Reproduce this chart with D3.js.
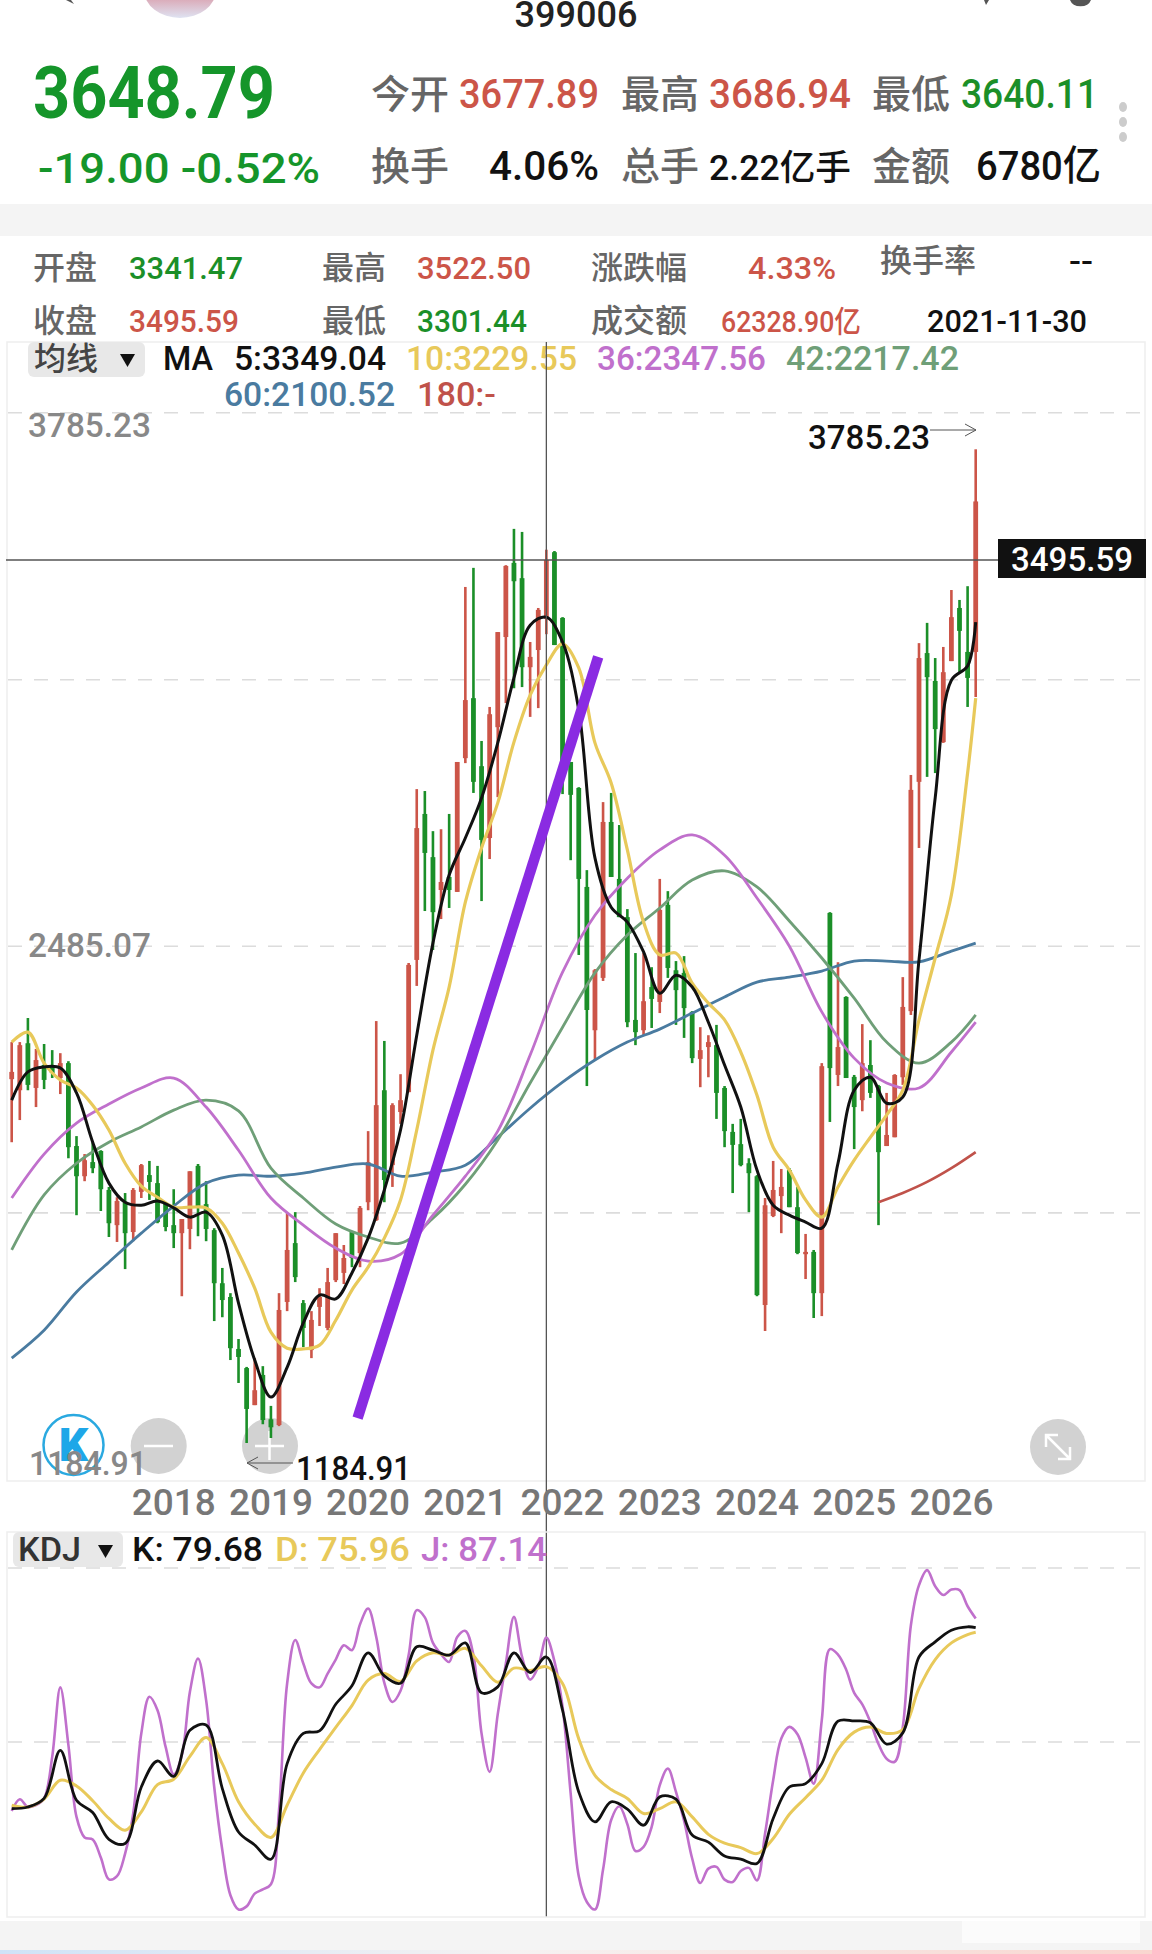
<!DOCTYPE html>
<html>
<head>
<meta charset="utf-8">
<script src="https://cdn.jsdelivr.net/npm/d3@7"></script>
<style>
    html, body { margin: 0; padding: 0; background: #fff; }
    svg { display: block; }
    text { font-family: Roboto, "Noto Sans CJK SC", sans-serif; font-weight: 500; }
</style>
</head>
<body>
<div id="chart"></div>
<script>
/************************** Data **************************/

var opens = [2137,2108,2231,2114,2174,2174,2140,2179,1962,1883,1920,1949,1847,1755,1815,1737,1842,1886,1865,1813,
    1755,1734,1745,1910,1810,1742,1603,1567,1431,1381,1284,1363,1247,1232,1554,1708,1551,1428,1541,1486,
    1611,1630,1737,1682,1815,1768,2108,1912,2051,2103,2449,2831,2718,2632,2666,2627,2977,3134,2956,2768,
    3058,3294,3488,3448,3215,3260,3341.47,3516,3344,2967,2899,2640,2265,2402,2810,2661,2561,2292,2265,2378,
    2339,2593,2422,2415,2313,2190,2221,2226,2114,1999,1967,1917,1883,1546,1779,1831,1899,1802,1679,1685,
    1577,2572,2148,2352,2143,2082,2174,2119,1962,1985,2142,2315,2915,3252,3179,3019,3231,3370,3255,3255];
var highs = [2234,2234,2297,2216,2229,2213,2205,2184,1988,1941,1972,1951,1855,1828,1839,1852,1915,1923,1910,1815,
    1849,1771,1896,1915,1870,1747,1643,1577,1457,1384,1407,1386,1282,1577,1787,1789,1559,1530,1590,1643,
    1734,1703,1737,1805,2001,2289,2237,2074,2150,2441,2896,2891,2786,2791,2831,2967,3425,3475,3022,3111,
    3307,3482,3577,3569,3281,3370,3522.5,3519,3346,2967,2901,2684,2425,2862,2886,2802,2582,2467,2467,2430,
    2661,2629,2446,2459,2315,2273,2252,2279,2119,2020,2033,1930,1886,1826,1923,1902,1904,1855,1732,1690,
    2179,2574,2443,2354,2148,2281,2239,2122,2101,2150,2404,2933,3278,3331,3239,3268,3417,3391,3427,3785.23];
var lows = [1972,2030,2108,2064,2111,2140,2098,1930,1781,1870,1891,1792,1724,1711,1640,1713,1826,1821,1760,1739,
    1695,1569,1692,1726,1713,1504,1514,1402,1342,1184.91,1284,1234,1198,1229,1530,1606,1436,1407,1491,1480,
    1606,1601,1645,1645,1794,1766,1815,1855,2020,2103,2381,2577,2475,2556,2585,2627,2964,2886,2603,2713,
    2875,3121,3160,3163,3085,3108,3301.44,3273,2883,2710,2462,2119,2187,2394,2666,2561,2273,2226,2252,2271,
    2310,2402,2279,2245,2179,2116,2142,2033,1959,1839,1909,1789,1569,1478,1776,1734,1802,1679,1614,1512,
    1517,2025,2119,2140,1954,2053,2088,1755,1962,1985,2122,2305,2742,2928,2938,3017,3231,3200,3111,3137];
var closes = [2156,2226,2122,2187,2135,2153,2179,1959,1883,1925,1904,1849,1760,1818,1734,1847,1912,1868,1763,1750,
    1734,1771,1896,1802,1745,1603,1559,1433,1410,1274,1323,1245,1226,1533,1690,1619,1486,1507,1567,1606,
    1734,1669,1669,1800,1920,2069,1873,2069,2082,2436,2794,2729,2574,2653,2632,2967,3129,2915,2763,3092,
    3307,3480,3440,3215,3242,3365,3495.59,3273,2964,2881,2661,2318,2422,2810,2666,2561,2286,2260,2341,2347,
    2580,2428,2370,2323,2192,2213,2234,2101,2001,1965,1912,1891,1572,1807,1847,1855,1802,1682,1685,1577,
    2171,2166,2221,2140,2064,2179,2101,1946,1991,2148,2326,2894,3239,3189,3053,3202,3346,3310,3187,3648.79];

// fast averages are read every 2nd candle, slow ones every 4th, all end on the last candle
var ma5 = [2082,2156,2169,2166,2101,1972,1865,1815,1807,1818,1800,1776,1789,1729,1551,1402,1305,1383,1499,1572,
    1562,1630,1721,1847,2004,2252,2493,2671,2768,2873,3017,3187,3325,3346,3281,3103,2716,2587,2548,2470,
    2362,2409,2378,2286,2174,2064,1899,1807,1781,1763,1747,1917,2108,2142,2074,2090,2449,2873,3181,3218,3333];
var ma10 = [2234,2260,2179,2135,2114,2069,2004,1917,1857,1828,1802,1802,1800,1760,1682,1590,1475,1433,1431,1441,
    1506,1585,1645,1721,1821,2004,2213,2378,2600,2742,2860,3019,3142,3221,3276,3213,3017,2912,2737,2548,
    2462,2467,2388,2336,2292,2208,2095,1959,1899,1821,1776,1855,1925,1985,2043,2108,2292,2454,2619,2938,3134];
var ma36 = [1826,1941,2022,2072,2114,2140,2064,1951,1826,1755,1695,1661,1679,1781,1883,2001,2200,2417,2566,2663,
    2737,2776,2723,2611,2485,2313,2192,2127,2114,2208,2286];
var ma42 = [1690,1834,1917,1972,2012,2056,2082,2054,1904,1826,1758,1724,1708,1773,1862,1978,2127,2273,2415,2514,
    2585,2658,2682,2640,2551,2454,2349,2234,2179,2234,2305];
var ma60 = [1407,1480,1580,1658,1734,1805,1865,1886,1883,1891,1907,1915,1883,1894,1912,1985,2061,2129,2187,2234,
    2268,2310,2352,2391,2404,2420,2446,2446,2444,2472,2493];
var ma180 = [1815,1839,1868,1904,1946];

var kValues = [21.4,22,25.3,43.8,24.6,19.9,9.6,8,29.7,39.7,33.8,51.5,53.5,29.1,12.4,7.4,1.9,38.7,50.3,51.3,
    61.5,68.6,81.3,72.4,69.6,83.6,82.3,80.4,85.1,65.9,68.2,81.3,73.7,79.68,59.2,27.8,16.3,24,21.2,15,
    25.9,25,11.2,8.5,3.2,2,0.3,17.6,29.7,31,38.7,55,55.1,54.4,46.2,50.5,79.7,85.5,90,91.3,91];
var dValues = [22.7,22,25.1,32.3,30.1,24.4,17.6,13.1,20.1,30.6,32.7,41.5,48.7,38.7,24,15.4,10.3,22.7,35.1,44.1,
    52.6,61,70.8,73.3,70.3,78.2,81.3,80.4,83,76.3,70,75.4,74.5,75.96,69.5,48.2,34.2,28.7,25.3,19.5,
    21.4,24,18.2,11.5,8.1,6.4,4.1,9.9,19.2,25.6,32.3,44.1,50.8,52.8,50.3,51.8,67.6,78.7,85.1,88.3,89.2];
var jValues = [20.5,25,22,22.7,25.3,41.3,68,45.8,18.2,10.3,9.5,2.6,-5.8,-4.6,4.1,19.5,50.3,64.4,59.2,45.1,
    34.6,41.9,66.3,79.1,63.1,29.7,5.4,-11.9,-17.4,-16.2,-11.3,-9.7,-7.7,20.8,69.5,86.2,77.2,69.5,68,73.3,
    78.7,84.2,82.3,92.3,98.3,87.4,69.7,62.4,66.7,80.4,97.7,94.9,85.1,80.8,77.8,87.4,89.7,80.4,50.3,35.5,
    57.7,77.2,95.1,79.7,71,76,87.14,78,60.5,27.2,-4.6,-14.5,-17.4,-2,17,22.3,15.4,5.1,6.7,14.4,
    30.4,36.8,27.8,16.7,2.2,-7.2,-1.7,-1,-5.9,-6.8,-2.6,-1.4,-6.2,11.8,32.3,48.3,52.8,50,41,31,
    55.4,82.7,80.6,74.9,65.9,61.5,54.7,46.2,40.6,39.4,52.8,91.9,107.3,113.1,106.9,103.5,105.6,105.4,99.2,94.5];

var gridPrices = [3881, 3182, 2485, 1787];
var gridKdj = [113.9, 47];
var yearLabels = ["2018","2019","2020","2021","2022","2023","2024","2025","2026"];
var firstYearIndex = 20;
var selectedIndex = 66;
var selectedClose = 3495.59;
var maxPrice = 3785.23;
var minPrice = 1184.91;
// hand drawn purple stroke: candle index and price of both ends
var penIndex = [42.7, 72.4];
var penPrice = [1250, 3242];

var RED = "#cc5548", GREEN = "#1b8f28", GREY = "#666", AXIS = "#888";
var YELLOW = "#e8c95a", PURPLE = "#c070cc", OLIVE = "#6f9f78", BLUE = "#4a7ba0";

/************************** Setup **************************/

var svg = d3.select("#chart").append("svg").attr("width", 1152).attr("height", 1954);
svg.append("rect").attr("width", 1152).attr("height", 1954).attr("fill", "#fff");

var x = d3.scaleLinear().domain([0, 119]).range([11.7, 975.7]);
var y = d3.scaleLinear().domain([minPrice, maxPrice]).range([1443, 449.3]);
var yKdj = d3.scaleLinear().domain([47, 113.9]).range([1742, 1568]);

var fastIdx = d3.range(0, 120, 2).concat(119);
var slowIdx = d3.range(0, 120, 4).concat(119);
var lastIdx = [107, 110, 113, 116, 119];

function label(px, py, str, size, color, width, anchor) {
    var t = svg.append("text").attr("x", px).attr("y", py).attr("font-size", size)
        .attr("fill", color).text(str);
    if (width) t.attr("textLength", width).attr("lengthAdjust", "spacingAndGlyphs");
    if (anchor) t.attr("text-anchor", anchor);
    return t;
}

function drawLine(idx, values, scale, color, width) {
    var path = d3.line()
        .x(function(d, i) { return x(idx[i]); })
        .y(function(d) { return scale(d); })
        .curve(d3.curveCatmullRom);
    svg.append("path").attr("d", path(values)).attr("fill", "none")
        .attr("stroke", color).attr("stroke-width", width).attr("stroke-linejoin", "round");
}

function dashedRule(py, x1, x2) {
    svg.append("line").attr("x1", x1).attr("x2", x2).attr("y1", py).attr("y2", py)
        .attr("stroke", "#dcdcdc").attr("stroke-width", 1.6).attr("stroke-dasharray", "14,12");
}

function arrow(x1, x2, py) {
    var head = x2 > x1 ? -1 : 1;
    svg.append("path")
        .attr("d", "M" + x1 + "," + py + "H" + x2 + "m" + (head * 11) + ",-6l" + (-head * 11) + ",6l" + (head * 11) + ",6")
        .attr("fill", "none").attr("stroke", "#555").attr("stroke-width", 1);
}

/************************** Quote header **************************/

var defs = svg.append("defs");
var face = defs.append("linearGradient").attr("id", "face").attr("x2", 0).attr("y2", 1);
face.append("stop").attr("offset", 0.5).attr("stop-color", "#d88f9c");
face.append("stop").attr("offset", 1).attr("stop-color", "#dfe3f2");
svg.append("ellipse").attr("cx", 180).attr("cy", -10).attr("rx", 36).attr("ry", 28).attr("fill", "url(#face)");
svg.append("path").attr("d", "M66,0l8,4l-3,-4z M984,0l2,5l3,-5z M1070,0a11,9 0 0 0 21,0z").attr("fill", "#555");
label(576, 27, "399006", 37, "#222", 123, "middle");

label(33, 118, "3648.79", 72, "#15952a", 242).style("font-weight", 700);
label(38, 183, "-19.00 -0.52%", 42, "#15952a", 282);

label(371, 108, "今开", 39, GREY);
label(459, 108, "3677.89", 41, RED, 140);
label(621, 108, "最高", 39, GREY);
label(709, 108, "3686.94", 41, RED, 142);
label(872, 108, "最低", 39, GREY);
label(961, 108, "3640.11", 41, GREEN, 137);

label(371, 180, "换手", 39, GREY);
label(489, 180, "4.06%", 41, "#111", 110);
label(621, 180, "总手", 39, GREY);
label(709, 180, "2.22亿手", 35, "#111", 142);
label(872, 180, "金额", 39, GREY);
label(976, 180, "6780亿", 41, "#111", 125);

[107, 122, 137].forEach(function(py) {
    svg.append("ellipse").attr("cx", 1123).attr("cy", py).attr("rx", 4).attr("ry", 5).attr("fill", "#ccc");
});
svg.append("rect").attr("y", 204).attr("width", 1152).attr("height", 32).attr("fill", "#f4f4f4");

/************************** Selected candle table **************************/

label(33, 279, "开盘", 32, GREY);
label(129, 279, "3341.47", 32, GREEN, 114);
label(322, 279, "最高", 32, GREY);
label(417, 279, "3522.50", 32, RED, 114);
label(591, 279, "涨跌幅", 32, GREY);
label(748, 279, "4.33%", 32, RED, 88);
label(880, 272, "换手率", 32, GREY);
label(1069, 272, "--", 32, "#111", 24);

label(33, 332, "收盘", 32, GREY);
label(129, 332, "3495.59", 32, RED, 110);
label(322, 332, "最低", 32, GREY);
label(417, 332, "3301.44", 32, GREEN, 110);
label(591, 332, "成交额", 32, GREY);
label(721, 332, "62328.90亿", 30, RED, 140);
label(927, 332, "2021-11-30", 31, "#111", 160);

/************************** Price panel **************************/

svg.append("rect").attr("x", 7).attr("y", 342).attr("width", 1138).attr("height", 1139)
    .attr("fill", "none").attr("stroke", "#eee").attr("stroke-width", 1.5);

gridPrices.forEach(function(p) { dashedRule(y(p), 8, 1145); });

label(28, 437, "3785.23", 34, AXIS, 123);
label(28, 957, "2485.07", 34, AXIS, 123);

// legend
svg.append("rect").attr("x", 28).attr("y", 342).attr("width", 117).attr("height", 35).attr("rx", 6).attr("fill", "#e8e8e8");
label(34, 370, "均线", 32, "#444");
svg.append("path").attr("d", "M120,354h15l-7.5,13z").attr("fill", "#111");
label(163, 370, "MA", 34, "#111", 50);
label(234, 370, "5:3349.04", 34, "#111", 152);
label(406, 370, "10:3229.55", 34, YELLOW, 171);
label(597, 370, "36:2347.56", 34, PURPLE, 169);
label(786, 370, "42:2217.42", 34, OLIVE, 173);
label(224, 406, "60:2100.52", 34, BLUE, 171);
label(417, 406, "180:-", 34, "#c0524a", 79);

// zoom buttons sit under the candles
svg.append("circle").attr("cx", 73.5).attr("cy", 1445).attr("r", 30).attr("fill", "#fff")
    .attr("stroke", "#2aa9e0").attr("stroke-width", 2.5);
label(73.5, 1461, "K", 46, "#1ea7e8", null, "middle").style("font-weight", 900);
svg.append("circle").attr("cx", 158.7).attr("cy", 1446).attr("r", 28).attr("fill", "#d2d2d2");
svg.append("circle").attr("cx", 270).attr("cy", 1446).attr("r", 28).attr("fill", "#d2d2d2");
svg.append("circle").attr("cx", 1058).attr("cy", 1447).attr("r", 28).attr("fill", "#d2d2d2");
svg.append("path").attr("d", "M144,1446h29 M255,1446h29 M269.5,1431v29 M1046,1435l24,24 M1046,1447v-12h12 M1070,1447v12h-12")
    .attr("fill", "none").attr("stroke", "#fff").attr("stroke-width", 2.5);
label(29, 1475, "1184.91", 34, AXIS, 118);

// candles
var candles = svg.append("g").selectAll("g").data(opens).enter().append("g")
    .attr("fill", function(d, i) { return closes[i] >= opens[i] ? RED : GREEN; });
candles.append("rect")
    .attr("x", function(d, i) { return x(i) - 1.3; })
    .attr("width", 2.6)
    .attr("y", function(d, i) { return y(highs[i]); })
    .attr("height", function(d, i) { return y(lows[i]) - y(highs[i]); });
candles.append("rect")
    .attr("x", function(d, i) { return x(i) - 2.4; })
    .attr("width", 4.8)
    .attr("y", function(d, i) { return y(Math.max(opens[i], closes[i])); })
    .attr("height", function(d, i) { return Math.max(2, Math.abs(y(opens[i]) - y(closes[i]))); });

// moving averages
drawLine(lastIdx, ma180, y, "#c0524a", 2.6);
drawLine(slowIdx, ma60, y, BLUE, 2.8);
drawLine(slowIdx, ma42, y, OLIVE, 2.8);
drawLine(slowIdx, ma36, y, PURPLE, 2.8);
drawLine(fastIdx, ma10, y, YELLOW, 3.2);
drawLine(fastIdx, ma5, y, "#111", 3);

// crosshair
svg.append("line").attr("x1", x(selectedIndex)).attr("x2", x(selectedIndex)).attr("y1", 342).attr("y2", 1917)
    .attr("stroke", "#555").attr("stroke-width", 1.3);
svg.append("line").attr("x1", 6).attr("x2", 998).attr("y1", y(selectedClose)).attr("y2", y(selectedClose))
    .attr("stroke", "#555").attr("stroke-width", 1.3);
svg.append("rect").attr("x", 998).attr("y", 539).attr("width", 148).attr("height", 39).attr("fill", "#111");
label(1072, 571, "3495.59", 34, "#fff", 122, "middle");

// hand drawn stroke
svg.append("line").attr("x1", x(penIndex[0])).attr("y1", y(penPrice[0]))
    .attr("x2", x(penIndex[1])).attr("y2", y(penPrice[1]))
    .attr("stroke", "#8a2be2").attr("stroke-width", 10.5);

// extremes
label(808, 449, "3785.23", 34, "#111", 122);
arrow(930, 976, 430);
arrow(293, 247, 1463);
label(296, 1480, "1184.91", 34, "#111", 115);

// year axis
svg.append("g").selectAll("text").data(yearLabels).enter().append("text")
    .attr("x", function(d, i) { return x(firstYearIndex + i * 12); })
    .attr("y", 1515).attr("text-anchor", "middle").attr("font-size", 36).attr("fill", "#777")
    .attr("textLength", 84).attr("lengthAdjust", "spacingAndGlyphs")
    .text(function(d) { return d; });

/************************** KDJ panel **************************/

svg.append("rect").attr("x", 7).attr("y", 1532).attr("width", 1138).attr("height", 385)
    .attr("fill", "none").attr("stroke", "#eee").attr("stroke-width", 1.5);
gridKdj.forEach(function(v) { dashedRule(yKdj(v), 8, 1145); });

svg.append("rect").attr("x", 13).attr("y", 1532).attr("width", 110).attr("height", 35).attr("rx", 6).attr("fill", "#e8e8e8");
label(18, 1561, "KDJ", 34, "#333", 63);
svg.append("path").attr("d", "M98,1545h15l-7.5,13z").attr("fill", "#111");
label(132, 1561, "K: 79.68", 34, "#111", 131);
label(275, 1561, "D: 75.96", 34, YELLOW, 135);
label(421, 1561, "J: 87.14", 34, PURPLE, 126);

drawLine(d3.range(0, 120), jValues, yKdj, PURPLE, 2.6);
drawLine(fastIdx, dValues, yKdj, YELLOW, 3);
drawLine(fastIdx, kValues, yKdj, "#111", 2.8);

/************************** Footer **************************/

var fade = defs.append("linearGradient").attr("id", "fade");
fade.append("stop").attr("offset", 0).attr("stop-color", "#cfe3f7");
fade.append("stop").attr("offset", 0.45).attr("stop-color", "#f6f2f2");
fade.append("stop").attr("offset", 1).attr("stop-color", "#f9d6cf");
svg.append("rect").attr("y", 1921).attr("width", 1152).attr("height", 33).attr("fill", "#f4f4f4");
svg.append("rect").attr("x", 962).attr("y", 1921).attr("width", 178).attr("height", 22).attr("fill", "#fbfbfb");
svg.append("rect").attr("y", 1950).attr("width", 1152).attr("height", 4).attr("fill", "url(#fade)");
</script>
</body>
</html>
